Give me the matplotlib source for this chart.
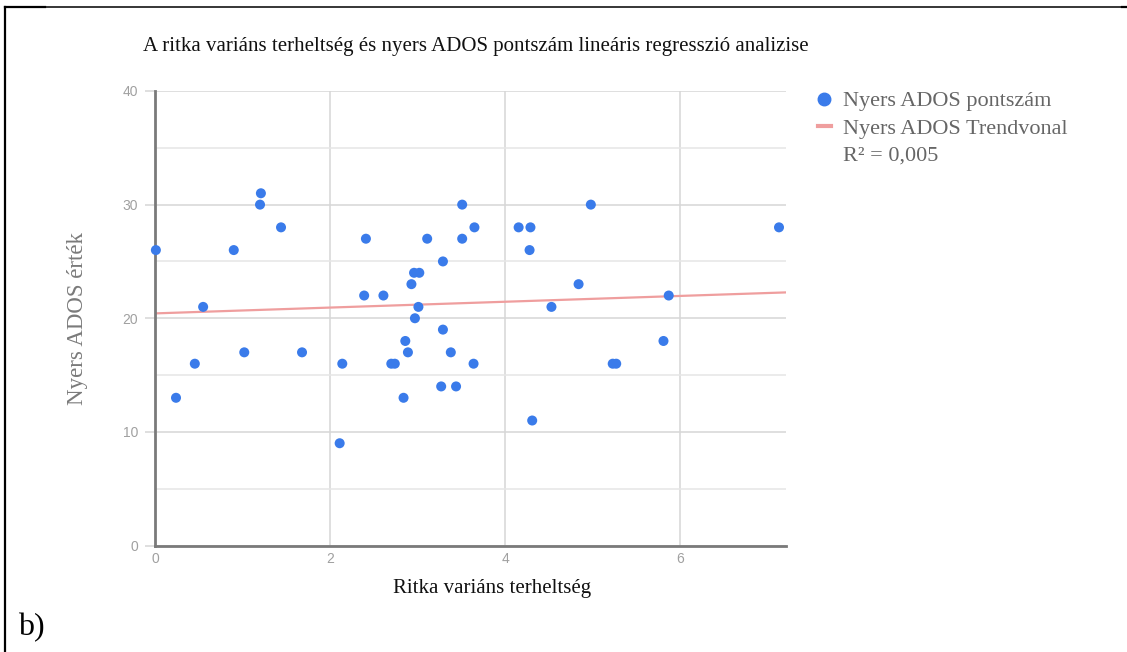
import numpy as np
import matplotlib
matplotlib.use('Agg')
import matplotlib.pyplot as plt
from matplotlib.lines import Line2D

# Data
load = [0.01, 0.24, 0.455, 0.55, 0.90, 1.02, 1.20, 1.21, 1.44, 1.68,
        2.11, 2.14, 2.39, 2.41, 2.61, 2.70, 2.74, 2.84, 2.86, 2.89,
        2.93, 2.96, 3.02, 2.97, 3.01, 3.11, 3.29, 3.29, 3.27, 3.38,
        3.44, 3.51, 3.51, 3.65, 3.64, 4.155, 4.29, 4.28, 4.31, 4.53,
        4.84, 4.98, 5.23, 5.27, 5.81, 5.87, 7.13]
ados = [26, 13, 16, 21, 26, 17, 30, 31, 28, 17,
        9, 16, 22, 27, 22, 16, 16, 13, 18, 17,
        23, 24, 24, 20, 21, 27, 25, 19, 14, 17,
        14, 30, 27, 28, 16, 28, 28, 26, 11, 21,
        23, 30, 16, 16, 18, 22, 28]
x_ticks = [0, 2, 4, 6]
y_ticks = [0, 10, 20, 30, 40]
y_minor = [5, 15, 25, 35]
r2_text = 'R² = 0,005'

serif = ['Liberation Serif', 'DejaVu Serif']
sans = ['Liberation Sans', 'DejaVu Sans']

W, H = 1127, 652
fig = plt.figure(figsize=(W / 100, H / 100), dpi=100)

# Axes placed in pixel terms of the reference
left, right, bottom, top = 155, 786, 545.5, 91
ax = fig.add_axes([left / W, 1 - bottom / H, (right - left) / W, (bottom - top) / H])
ax.set_xlim(0, 7.21)
ax.set_ylim(0, 40)

# Gridlines
ax.set_xticks(x_ticks)
ax.set_yticks(y_ticks)
ax.set_yticks(y_minor, minor=True)
ax.grid(True, which='major', color='#d6d6d6', lw=1.1)
ax.grid(True, which='minor', axis='y', color='#e6e6e6', lw=1.1)
ax.set_axisbelow(True)
for s in ['top', 'right']:
    ax.spines[s].set_visible(False)
for s in ['left', 'bottom']:
    ax.spines[s].set_color('#7a7a7a')
    ax.spines[s].set_linewidth(2)
ax.tick_params(axis='y', which='major', length=7, width=1.1, color='#d6d6d6', pad=5,
               labelsize=10, labelcolor='#a0a0a0')
ax.tick_params(axis='y', which='minor', length=0)
ax.tick_params(axis='x', length=0, pad=5, labelsize=10, labelcolor='#a0a0a0')
for lab in ax.get_xticklabels() + ax.get_yticklabels():
    lab.set_family(sans)

# Trendline (least squares) and points
slope, intercept = np.polyfit(load, ados, 1)
xs = np.array(ax.get_xlim())
ax.plot(xs, slope * xs + intercept, color='#ef9e9e', lw=1.6, zorder=2)
ax.scatter(load, ados, s=52, color='#3a7bea', edgecolors='none', zorder=3, clip_on=False)

# Titles
fig.text(143 / W, 1 - 47 / H, 'A ritka variáns terheltség és nyers ADOS pontszám lineáris regresszió analizise',
         family=serif, fontsize=15, color='#111111', ha='left', va='center')
fig.text(492 / W, 1 - 588 / H, 'Ritka variáns terheltség', family=serif, fontsize=15,
         color='#111111', ha='center', va='center')
fig.text(78 / W, 1 - 318 / H, 'Nyers ADOS érték', family=serif, fontsize=16.5,
         color='#7a7a7a', ha='center', va='center', rotation=90)

# Legend
handles = [
    Line2D([], [], ls='none', marker='o', ms=9, color='#3a7bea'),
    Line2D([], [], color='#ef9e9e', lw=3),
    Line2D([], [], ls='none'),
]
labels = ['Nyers ADOS pontszám', 'Nyers ADOS Trendvonal', r2_text]
leg = fig.legend(handles, labels, loc='upper left', bbox_to_anchor=(800 / W, 1 - 73 / H),
                 frameon=False, handlelength=0.6, handletextpad=0.55, labelspacing=0.3,
                 borderpad=0.3, prop={'family': serif, 'size': 16})
for t in leg.get_texts():
    t.set_color('#666666')

# Page frame and panel label
fig.add_artist(Line2D([4.5 / W, 4.5 / W], [0, 1 - 7 / H], color='black', lw=1.6))
fig.add_artist(Line2D([4.5 / W, 1], [1 - 7 / H, 1 - 7 / H], color='black', lw=1.1))
fig.add_artist(Line2D([4.5 / W, 45 / W], [1 - 7.3 / H, 1 - 7.3 / H], color='black', lw=1.6))
fig.add_artist(Line2D([1122 / W, 1], [1 - 7.3 / H, 1 - 7.3 / H], color='black', lw=1.6))
fig.text(18 / W, 1 - 628 / H, 'b)', family=serif, fontsize=23, color='black',
         ha='left', va='center')

fig.savefig('out.png', dpi=100)
